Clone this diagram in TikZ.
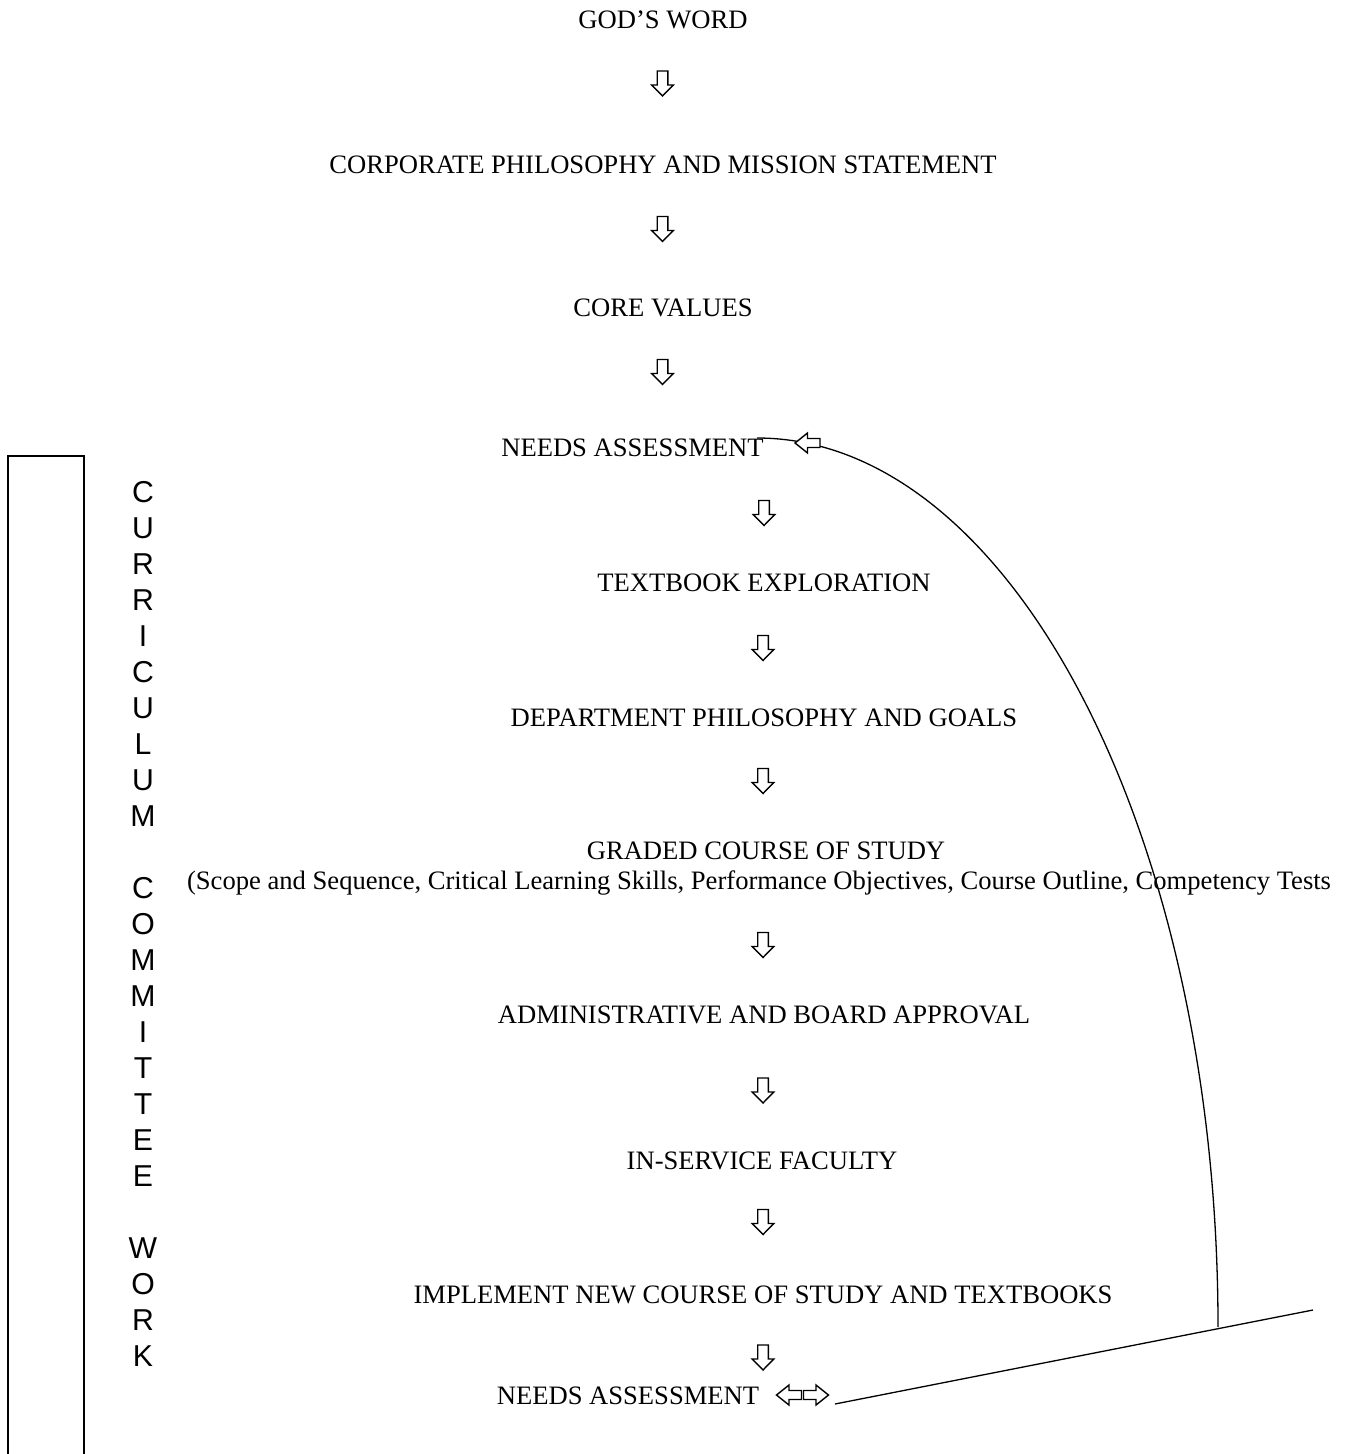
\documentclass[tikz,border=0pt]{standalone}
\usepackage{fontspec}
\setmainfont{Liberation Serif}
\newfontfamily\arialfont{Liberation Sans}
\begin{document}
\begin{tikzpicture}[x=0.5pt,y=-0.5pt,
  lbl/.style={font=\fontsize{13.3}{16}\selectfont, inner sep=0pt, anchor=base},
  hollow/.style={draw=black, line width=0.7pt, fill=white, line join=miter},
  conn/.style={draw=black, line width=0.65pt},
  frame/.style={draw=black, line width=0.8pt},
  vert/.style={font=\arialfont\fontsize{15.1}{18}\selectfont, align=center, inner sep=0pt, anchor=north},
  downarr/.pic={\draw[hollow] (-5.3,-12.5) -- (5.3,-12.5) -- (5.3,1.5) -- (10.8,1.5) -- (0,12.5) -- (-10.8,1.5) -- (-5.3,1.5) -- cycle;},
  leftarr/.pic={\draw[hollow] (12.5,-4.5) -- (12.5,4.5) -- (0,4.5) -- (0,10) -- (-12.5,0) -- (0,-10) -- (0,-4.5) -- cycle;},
  rightarr/.pic={\draw[hollow] (-12.5,-4.5) -- (-12.5,4.5) -- (0,4.5) -- (0,10) -- (12.5,0) -- (0,-10) -- (0,-4.5) -- cycle;}
]
\useasboundingbox (0,0) rectangle (1354,1454);

% left frame
\draw[frame] (8,1454) -- (8,456) -- (84,456) -- (84,1454);
\node[vert] (ccw) at (143,481) {C\\U\\R\\R\\I\\C\\U\\L\\U\\M\\[18pt]C\\O\\M\\M\\I\\T\\T\\E\\E\\[18pt]W\\O\\R\\K};

% labels
\node[lbl] (god) at (663,29) {GOD’S WORD};
\node[lbl] (corp) at (663,174) {CORPORATE PHILOSOPHY AND MISSION STATEMENT};
\node[lbl] (core) at (663,317) {CORE VALUES};
\node[lbl] (needs1) at (632.5,456) {NEEDS ASSESSMENT};
\node[lbl] (textb) at (764,591) {TEXTBOOK EXPLORATION};
\node[lbl] (dept) at (764,726) {DEPARTMENT PHILOSOPHY AND GOALS};
\node[lbl] (graded) at (766,859) {GRADED COURSE OF STUDY};
\node[lbl] (scope) at (759,889) {(Scope and Sequence, Critical Learning Skills, Performance Objectives, Course Outline, Competency Tests};
\node[lbl] (admin) at (764,1023) {ADMINISTRATIVE AND BOARD APPROVAL};
\node[lbl] (insvc) at (762,1169) {IN-SERVICE FACULTY};
\node[lbl] (impl) at (763,1303) {IMPLEMENT NEW COURSE OF STUDY AND TEXTBOOKS};
\node[lbl] (needs2) at (628,1404) {NEEDS ASSESSMENT};

% hollow down arrows
\pic at (662.5,83.5) {downarr};
\pic at (662.5,229) {downarr};
\pic at (662.5,372) {downarr};
\pic at (764,513) {downarr};
\pic at (763,648) {downarr};
\pic at (763,781) {downarr};
\pic at (763,945) {downarr};
\pic at (763,1090.5) {downarr};
\pic at (763,1222) {downarr};
\pic at (763,1357.5) {downarr};

% feedback loop
\coordinate (cstart) at (757,438);
\coordinate (cend) at (1218,1327);
\coordinate (ls) at (835,1404);
\coordinate (le) at (1313,1310);
\draw[conn] (cstart) .. controls +(254.6,0) and +(0,-491) .. (cend);
\draw[conn] (ls) -- (le);
\pic at (807.5,443) {leftarr};
\pic at (789,1395) {leftarr};
\pic at (816,1395) {rightarr};
\end{tikzpicture}
\end{document}
